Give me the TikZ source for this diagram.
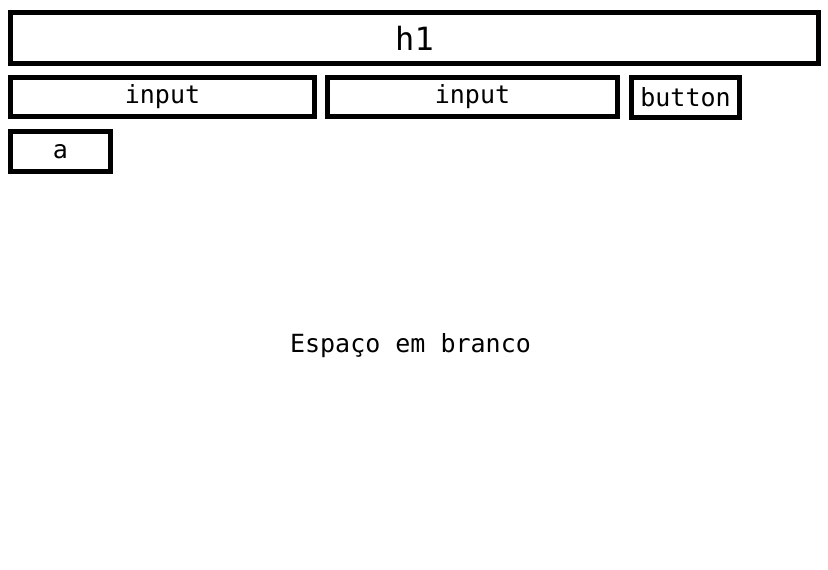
\documentclass[tikz,border=0pt]{standalone}
\usepackage{fontspec}
\setmonofont{DejaVu Sans Mono}
\usetikzlibrary{positioning}

\begin{document}
\begin{tikzpicture}[x=1pt,y=-1pt]
			\tikzset{
				my box/.style={
						draw=black,
						line width=5pt,
						rectangle,
						inner sep=0pt,
						font=\ttfamily\fontsize{25}{29}\selectfont,
					},
				my label/.style={
						font=\ttfamily\fontsize{25}{29}\selectfont,
					},
			}
			\useasboundingbox[fill=white] (0,0) rectangle (828,570);
			%
			\node[my box, minimum width=808pt, minimum height=51pt,
				font=\ttfamily\fontsize{32}{37}\selectfont] at (414.5,38) (h1) {h1};
			\node[my box, minimum width=304pt, minimum height=39pt,
				below=9pt of h1.south west, anchor=north west] (in1) {input};
			\node[my box, minimum width=290pt, minimum height=39pt,
				right=8pt of in1] (in2) {input};
			\node[my box, minimum width=108pt, minimum height=40pt,
				right=9pt of in2] (btn) {button};
			\node[my box, minimum width=100pt, minimum height=40pt,
				below=10pt of in1.south west, anchor=north west] (lnk) {a};
			%
			\node[my label] at (410.5,346) (blank) {Espaço em branco};
		\end{tikzpicture}
\end{document}
